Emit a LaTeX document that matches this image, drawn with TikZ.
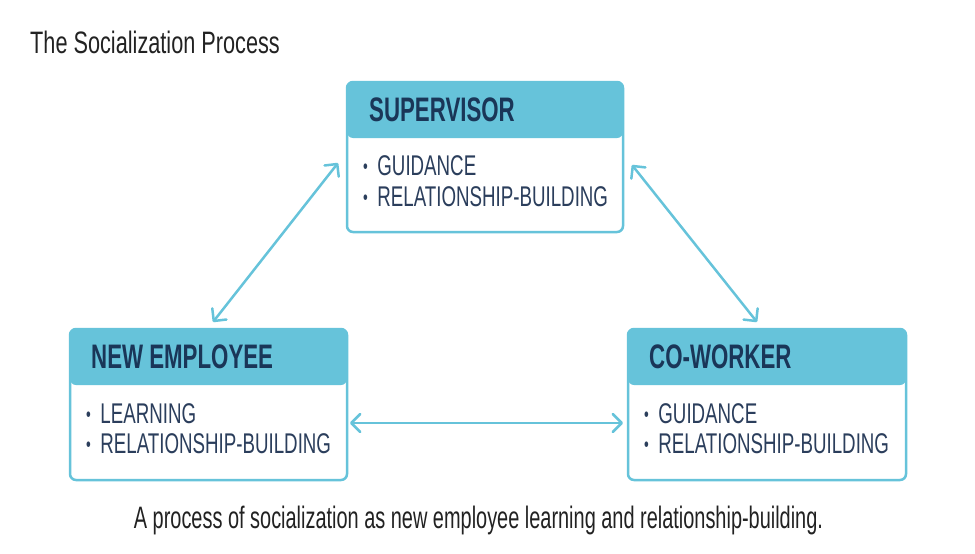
\documentclass[tikz,border=0pt]{standalone}
\usepackage{fontspec}
\setmainfont{Liberation Sans}
\newfontfamily\titlef[FakeStretch=0.70]{Liberation Sans}
\newfontfamily\capf[FakeStretch=0.643]{Liberation Sans}
\newfontfamily\headf[FakeStretch=0.655]{Liberation Sans}
\newfontfamily\bodyf[FakeStretch=0.657]{Liberation Sans}
\usetikzlibrary{arrows.meta,calc}
\definecolor{teal1}{HTML}{66C3DA}
\definecolor{navy}{HTML}{1A3658}
\definecolor{bodyc}{HTML}{2B3E5C}
\definecolor{ink}{HTML}{222222}
\newcommand{\smbul}{\raisebox{1.6pt}{\scalebox{0.72}{\textbullet}}\hspace{9.5pt}}
\begin{document}
\begin{tikzpicture}[x=1pt,y=-1pt,
  box/.style={draw=teal1, line width=2.5pt, rounded corners=6pt, fill=white,
    inner sep=0pt, outer sep=0pt, minimum height=151pt,
    path picture={\fill[teal1] (path picture bounding box.north west) rectangle ([yshift=-56pt]path picture bounding box.north east);}},
  hdr/.style={font=\headf\bfseries\fontsize{34}{38}\selectfont, text=navy, anchor=base west, inner sep=0pt},
  item/.style={font=\bodyf\fontsize{28.5}{32}\selectfont, text=bodyc, anchor=base west, inner sep=0pt},
  titletext/.style={font=\titlef\fontsize{31}{36}\selectfont, text=ink, anchor=base west, inner sep=0pt},
  captext/.style={font=\capf\fontsize{31}{36}\selectfont, text=ink, anchor=base, inner sep=0pt},
  barb/.tip={Straight Barb[round,length=9pt,width=18pt]},
  conn/.style={draw=teal1, line width=2.5pt, line cap=round, barb-barb}
]
\useasboundingbox (0,0) rectangle (975,554);

\node[titletext] (title) at (30,53) {The Socialization Process};

% boxes
\node[box, minimum width=276pt, minimum height=150pt] (sup) at (485,157) {};
\node[box, minimum width=277pt] (ne) at (208.5,404.5) {};
\node[box, minimum width=278pt] (cw) at (767,404.5) {};

% headers
\node[hdr] (suph) at ($(sup.north west)+(22,39)$) {SUPERVISOR};
\node[hdr] (neh) at ($(ne.north west)+(21,39)$) {NEW EMPLOYEE};
\node[hdr] (cwh) at ($(cw.north west)+(21,39)$) {CO-WORKER};

% items
\node[item] (sup1) at ($(sup.north west)+(16,93)$) {\smbul GUIDANCE};
\node[item] (sup2) at ($(sup.north west)+(16,124)$) {\smbul RELATIONSHIP-BUILDING};
\node[item] (ne1) at ($(ne.north west)+(16,94)$) {\smbul LEARNING};
\node[item] (ne2) at ($(ne.north west)+(16,124)$) {\smbul RELATIONSHIP-BUILDING};
\node[item] (cw1) at ($(cw.north west)+(16,94)$) {\smbul GUIDANCE};
\node[item] (cw2) at ($(cw.north west)+(16,124)$) {\smbul RELATIONSHIP-BUILDING};

% connectors
\draw[conn] ([shift={(4.5,-7)}]ne.north) -- ([shift={(-9,6)}]sup.west);
\draw[conn] ([shift={(9,8)}]sup.east) -- ([shift={(-10,-7)}]cw.north);
\draw[conn] ([shift={(3,18.5)}]ne.east) -- ([shift={(-5,18.5)}]cw.west);

\node[captext] (cap) at (478.5,528) {A process of socialization as new employee learning and relationship-building.};
\end{tikzpicture}
\end{document}
